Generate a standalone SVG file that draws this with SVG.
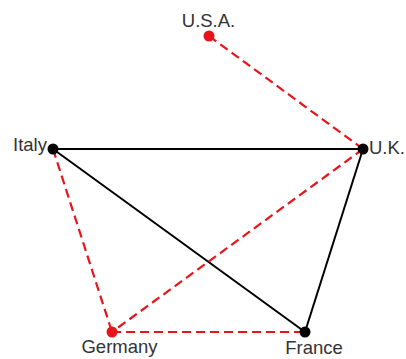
<svg xmlns="http://www.w3.org/2000/svg" width="406" height="359" viewBox="0 0 406 359">
<style>
.solid{stroke:#000;stroke-width:2;fill:none}
.dash{stroke:#e8141c;stroke-width:2.2;stroke-dasharray:9,5;fill:none}
.lbl{font-family:"Liberation Sans",Arial,sans-serif;font-size:18.5px;fill:#333}
.blk{fill:#000}
.red{fill:#e8141c}
</style>
<rect width="406" height="359" fill="#fff"/>
<g id="edges">
<line class="solid" x1="53" y1="149" x2="363" y2="149"/>
<line class="solid" x1="53" y1="149" x2="305" y2="332"/>
<line class="solid" x1="363" y1="149" x2="305" y2="332"/>
<line class="dash" x1="209" y1="36" x2="363" y2="149"/>
<line class="dash" x1="363" y1="149" x2="112" y2="332"/>
<line class="dash" x1="53" y1="149" x2="112" y2="332"/>
<line class="dash" x1="112" y1="332" x2="305" y2="332"/>
</g>
<g id="usa"><circle class="red" cx="209" cy="36" r="5.5"/><text class="lbl" x="208.5" y="27" text-anchor="middle">U.S.A.</text></g>
<g id="italy"><circle class="blk" cx="53" cy="149" r="5.5"/><text class="lbl" x="13" y="151">Italy</text></g>
<g id="uk"><circle class="blk" cx="363" cy="149" r="5.5"/><text class="lbl" x="369" y="154">U.K.</text></g>
<g id="germany"><circle class="red" cx="112" cy="332" r="5.5"/><text class="lbl" x="119.5" y="353" text-anchor="middle">Germany</text></g>
<g id="france"><circle class="blk" cx="305" cy="332" r="5.5"/><text class="lbl" x="314" y="354" text-anchor="middle">France</text></g>
</svg>
